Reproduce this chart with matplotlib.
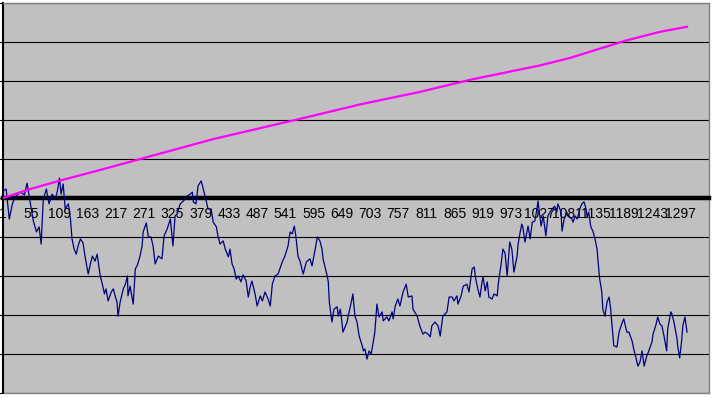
import matplotlib
matplotlib.use("Agg")
import matplotlib.pyplot as plt
from matplotlib.patches import Rectangle
from matplotlib import font_manager

plt.rcParams["font.family"] = ["Liberation Sans", "Arial", "DejaVu Sans"]

# ---- data ----
series_x = [1, 7, 13, 19, 24, 34, 42, 47, 53, 59, 65, 70, 74, 78, 84, 89, 95, 101, 105, 109,
            112, 116, 120, 126, 130, 133, 137, 141, 145, 149, 154, 158, 164, 168, 172, 177, 181, 187, 191, 195,
            198, 202, 208, 212, 216, 219, 221, 225, 231, 235, 239, 240, 244, 250, 254, 258, 263, 267, 269, 275,
            279, 284, 288, 292, 298, 305, 309, 315, 321, 326, 330, 334, 340, 344, 349, 353, 359, 363, 365, 370,
            374, 380, 384, 390, 393, 399, 403, 409, 412, 416, 422, 426, 432, 435, 439, 443, 447, 451, 456, 460,
            466, 470, 474, 477, 483, 487, 493, 497, 502, 508, 512, 516, 521, 527, 535, 540, 546, 550, 554, 558,
            561, 565, 569, 575, 581, 588, 592, 598, 602, 607, 611, 613, 621, 623, 625, 630, 634, 640, 642, 646,
            649, 651, 659, 661, 667, 670, 674, 678, 682, 688, 690, 693, 697, 701, 705, 709, 712, 716, 720, 726,
            728, 735, 739, 745, 747, 751, 756, 760, 766, 772, 776, 783, 785, 793, 798, 804, 808, 814, 818, 821,
            827, 833, 837, 842, 850, 854, 860, 863, 869, 871, 877, 881, 888, 892, 898, 902, 905, 909, 913, 917,
            919, 923, 927, 930, 936, 940, 946, 948, 953, 957, 961, 965, 967, 970, 974, 978, 984, 986, 990, 993,
            995, 999, 1005, 1009, 1013, 1018, 1022, 1024, 1030, 1034, 1039, 1043, 1047, 1051, 1056, 1060, 1062, 1068, 1070, 1074,
            1079, 1081, 1089, 1091, 1095, 1099, 1104, 1108, 1112, 1116, 1118, 1121, 1125, 1129, 1133, 1137, 1139, 1142, 1146, 1148,
            1152, 1156, 1160, 1163, 1165, 1169, 1175, 1179, 1184, 1188, 1194, 1198, 1204, 1207, 1211, 1215, 1219, 1223, 1227, 1232,
            1236, 1242, 1244, 1249, 1253, 1257, 1261, 1265, 1270, 1272, 1278, 1280, 1284, 1290, 1291, 1295, 1299, 1301, 1305, 1309]

series_y = [1.8, 2.3, -5.4, -1.5, 0.3, 1.5, 0.8, 3.8, -1.0, -5.9, -8.7, -7.4, -11.8, -0.3, 2.3, -1.5, 1.0, -0.3, 1.8, 5.1,
            1.0, 3.6, -2.8, -1.5, -5.4, -10.5, -13.1, -14.4, -12.1, -10.5, -11.5, -15.1, -19.5, -16.9, -14.9, -16.2, -14.4, -20.0, -22.1, -24.6,
            -23.3, -26.4, -24.1, -23.3, -25.4, -26.7, -30.3, -26.7, -23.3, -22.1, -20.0, -25.1, -22.6, -27.2, -18.2, -17.2, -14.9, -12.3, -8.7, -6.4,
            -10.0, -10.0, -12.3, -16.9, -14.9, -15.6, -9.7, -7.9, -5.4, -12.3, -4.6, -4.1, -1.5, -1.0, -0.3, 0.5, 1.0, 1.5, -1.0, -1.5,
            3.1, 4.4, 2.3, -1.0, -2.8, -2.8, -6.2, -7.4, -9.7, -11.8, -11.0, -13.1, -15.1, -13.1, -16.9, -18.2, -20.8, -20.0, -21.5, -19.7,
            -21.3, -25.4, -22.6, -21.3, -24.6, -27.7, -25.1, -26.4, -24.1, -25.9, -27.7, -22.1, -20.0, -19.5, -16.4, -14.9, -12.3, -8.7, -9.2, -7.2,
            -9.7, -14.9, -16.2, -19.5, -16.4, -15.6, -17.4, -13.1, -10.0, -11.0, -13.1, -15.6, -20.0, -21.5, -26.7, -31.8, -28.5, -27.9, -30.3, -28.5,
            -31.8, -34.4, -31.8, -30.3, -26.7, -24.6, -30.3, -31.8, -35.4, -37.9, -39.2, -38.7, -41.3, -39.2, -40.0, -36.9, -34.4, -27.2, -30.5, -29.2,
            -31.5, -30.5, -31.5, -29.2, -31.0, -27.7, -25.9, -27.7, -24.1, -22.1, -25.4, -25.1, -28.5, -30.3, -32.8, -34.9, -34.4, -34.9, -35.6, -32.8,
            -31.8, -32.8, -35.4, -30.3, -29.2, -25.4, -25.4, -26.4, -25.1, -27.2, -25.1, -22.6, -22.1, -24.1, -18.2, -17.7, -20.8, -23.3, -25.4, -21.5,
            -20.3, -23.8, -21.5, -25.4, -25.9, -24.6, -25.1, -22.1, -17.4, -13.1, -14.1, -20.0, -16.4, -11.3, -13.1, -19.0, -14.9, -11.8, -8.7, -6.7,
            -7.4, -11.3, -7.2, -10.5, -6.2, -5.9, -2.8, -0.8, -7.2, -4.6, -9.7, -4.6, -3.6, -2.8, -2.1, -3.6, -1.5, -3.6, -8.5, -5.4,
            -3.6, -4.6, -5.4, -6.2, -4.6, -5.4, -2.8, -1.5, -1.0, -2.8, -4.9, -3.6, -7.4, -8.5, -10.5, -13.1, -16.4, -20.8, -24.1, -28.5,
            -30.3, -26.7, -25.4, -28.5, -31.8, -37.9, -38.2, -34.4, -32.3, -31.0, -34.4, -34.4, -36.7, -38.7, -40.8, -43.1, -42.1, -39.2, -43.1, -40.5,
            -39.2, -36.9, -34.9, -32.8, -30.5, -32.3, -32.8, -35.4, -39.2, -33.6, -29.2, -29.7, -31.8, -36.2, -37.9, -41.0, -36.2, -32.8, -30.5, -34.4]

trend_x = [1, 53, 111, 187, 258, 403, 569, 684, 798, 894, 1028, 1085, 1190, 1257, 1309]
trend_y = [0.0, 2.3, 4.5, 7.2, 9.8, 15.1, 20.3, 24.0, 27.2, 30.3, 34.0, 35.9, 40.3, 42.6, 43.9]

tick_positions = list(range(1, 1298, 54))
tick_labels = [str(t) for t in tick_positions]
grid_values = list(range(-50, 51, 10))

# ---- figure ----
fig = plt.figure(figsize=(7.12, 3.98), dpi=100, facecolor="white")
ax = fig.add_axes([3 / 712, 5 / 398, 706 / 712, 390 / 398])
ax.set_facecolor("#C0C0C0")
ax.set_xlim(1, 1351)
ax.set_ylim(-50, 50)

ax.set_yticks(grid_values)
ax.set_yticklabels([])
ax.tick_params(axis="y", length=3, width=0.8, color="black", direction="out")
ax.yaxis.grid(True, color="black", linewidth=0.8)
ax.set_axisbelow(True)

ax.set_xticks(tick_positions)
ax.set_xticklabels(tick_labels, fontsize=7.0, color="#1a1a1a")
ax.tick_params(axis="x", length=0, pad=6.5)

for s in ["top", "right"]:
    ax.spines[s].set_color("#808080")
    ax.spines[s].set_linewidth(1.0)
ax.spines["left"].set_color("black")
ax.spines["left"].set_linewidth(1.5)
ax.spines["bottom"].set_position(("data", 0))
ax.spines["bottom"].set_color("black")
ax.spines["bottom"].set_linewidth(3.2)

# bottom border of the plot area
ax.add_patch(Rectangle((0, 0), 1, 0, transform=ax.transAxes, fill=False,
                       edgecolor="#808080", linewidth=1.0, clip_on=False))

ax.plot(series_x, series_y, color="#000080", linewidth=0.9, zorder=3)
ax.plot(trend_x, trend_y, color="#FF00FF", linewidth=1.6, zorder=3)

fig.savefig("out.png", dpi=100, facecolor="white")
